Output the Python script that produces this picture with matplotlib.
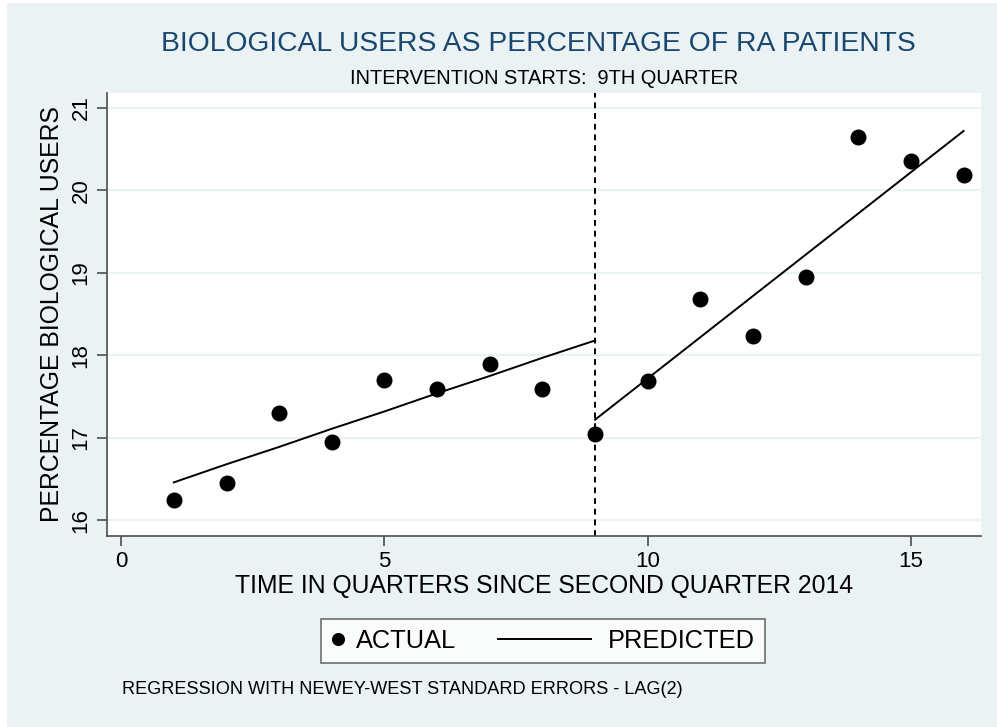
import matplotlib
matplotlib.use("Agg")
import matplotlib.pyplot as plt
from matplotlib.patches import Rectangle
from matplotlib.legend_handler import HandlerLine2D

plt.rcParams["font.family"] = ["Liberation Sans", "DejaVu Sans"]

# ==========================================
# Data
# ==========================================
quarters = [1, 2, 3, 4, 5, 6, 7, 8, 9, 10, 11, 12, 13, 14, 15, 16]
actual = [16.25, 16.45, 17.30, 16.95, 17.70, 17.59, 17.89, 17.59,
          17.05, 17.69, 18.68, 18.24, 18.95, 20.65, 20.35, 20.18]

pre_quarters = [1, 2, 3, 4, 5, 6, 7, 8, 9]
pre_predicted = [16.46, 16.68, 16.89, 17.11, 17.32, 17.54, 17.75, 17.97, 18.18]

post_quarters = [9, 10, 11, 12, 13, 14, 15, 16]
post_predicted = [17.22, 17.72, 18.22, 18.72, 19.22, 19.72, 20.22, 20.72]

intervention = 9
y_ticks = [16, 17, 18, 19, 20, 21]
x_ticks = [0, 5, 10, 15]

bg = "#EAF2F3"
axis_col = "#4d4d4d"


# legend line handle that reaches further left than the (short) handle box
class LongLineHandler(HandlerLine2D):
    def __init__(self, extra, trim=0, **kw):
        super().__init__(**kw)
        self.extra = extra
        self.trim = trim

    def create_artists(self, legend, orig_handle, xdescent, ydescent,
                       width, height, fontsize, trans):
        return super().create_artists(legend, orig_handle, xdescent + self.extra,
                                      ydescent, width + self.extra - self.trim,
                                      height, fontsize, trans)


# ==========================================
# Figure
# ==========================================
fig = plt.figure(figsize=(9.97, 7.27), dpi=100, facecolor="white")
fig.patches.append(Rectangle((7 / 997, 0), 990 / 997, 724 / 727,
                             transform=fig.transFigure, facecolor=bg,
                             edgecolor="none", zorder=-10))

ax = fig.add_axes([107 / 997, 1 - 536 / 727, 874 / 997, 443 / 727])
ax.set_facecolor("white")

ax.axvline(intervention, color="black", linestyle=(0, (3, 2.5)), linewidth=1.4, zorder=2)
pts, = ax.plot(quarters, actual, "o", color="black", markersize=10.5, zorder=4,
               label="ACTUAL")
line, = ax.plot(pre_quarters, pre_predicted, color="black", linewidth=1.4, zorder=3,
                label="PREDICTED")
ax.plot(post_quarters, post_predicted, color="black", linewidth=1.4, zorder=3)

ax.set_xlim(-0.27, 16.33)
ax.set_ylim(15.81, 21.18)
ax.set_xticks(x_ticks)
ax.set_yticks(y_ticks)
ax.grid(axis="y", color=bg, linewidth=1.6)
ax.set_axisbelow(True)

for side in ["top", "right"]:
    ax.spines[side].set_visible(False)
for side in ["left", "bottom"]:
    ax.spines[side].set_color(axis_col)
    ax.spines[side].set_linewidth(1.2)

ax.tick_params(axis="both", direction="out", length=7, width=1.2, color=axis_col,
               labelsize=16, pad=4)
plt.setp(ax.get_yticklabels(), rotation=90, va="center")

ax.set_xlabel("TIME IN QUARTERS SINCE SECOND QUARTER 2014", fontsize=17.8, labelpad=1)
ax.set_ylabel("PERCENTAGE BIOLOGICAL USERS", fontsize=17.8, labelpad=5)

# Titles
fig.text(538 / 997, 1 - 44 / 727, "BIOLOGICAL USERS AS PERCENTAGE OF RA PATIENTS",
         ha="center", va="center", fontsize=20.3, color="#1a476f")
fig.text(544 / 997, 1 - 79 / 727, "INTERVENTION STARTS:  9TH QUARTER",
         ha="center", va="center", fontsize=14.4)

# Legend
leg_fs = 18.3
leg = fig.legend([pts, line], ["ACTUAL", "PREDICTED"], ncol=2, loc="upper left",
                 bbox_to_anchor=(321 / 997, 1 - 619 / 727), fontsize=leg_fs,
                 frameon=True, fancybox=False, edgecolor=axis_col,
                 handlelength=0.5, handletextpad=0.48, columnspacing=5.0,
                 borderpad=0.4, borderaxespad=0, markerscale=0.8,
                 handler_map={line: LongLineHandler(extra=61.2, trim=3.5)})
leg.get_frame().set_linewidth(1.2)

# Note
fig.text(122 / 997, 1 - 690 / 727, "REGRESSION WITH NEWEY-WEST STANDARD ERRORS - LAG(2)",
         ha="left", va="center", fontsize=13.1)

fig.savefig("out.png", dpi=100, facecolor=fig.get_facecolor())
